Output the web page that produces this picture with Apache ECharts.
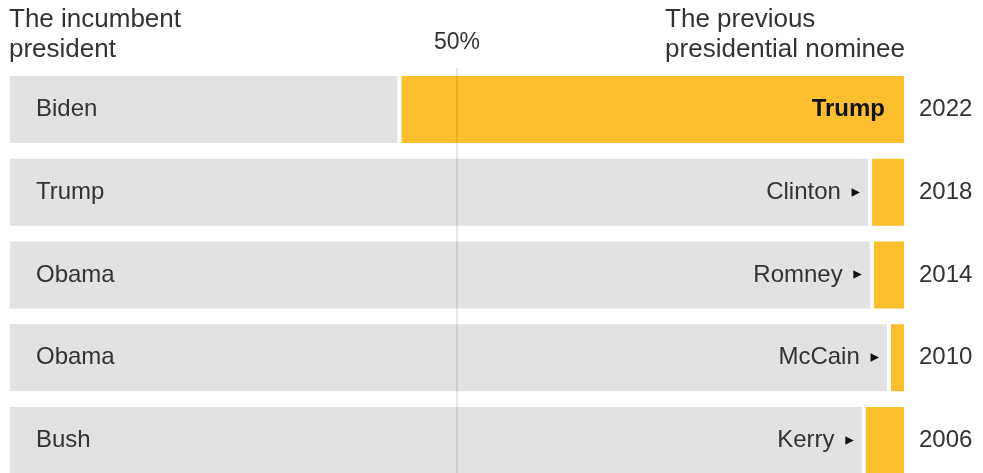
<!DOCTYPE html>
<html>
<head>
<meta charset="utf-8">
<script src="https://cdn.jsdelivr.net/npm/echarts@6/dist/echarts.min.js"></script>
<style>
  html, body { margin: 0; padding: 0; background: #fff; }
  #chart { width: 983px; height: 473px; }
</style>
</head>
<body>
<div id="chart"></div>
<script>
let years = ['2022', '2018', '2014', '2010', '2006'];
let incumbents = ['Biden', 'Trump', 'Obama', 'Obama', 'Bush'];
let nominees = ['Trump', 'Clinton', 'Romney', 'McCain', 'Kerry'];
// share of the bar, percent
let incumbentShare = [43.6, 96.0, 96.2, 98.1, 95.3];
let nomineeShare = [56.4, 4.0, 3.8, 1.9, 4.7];

let font = 'Liberation Sans';
let textColor = '#333';

let nomineeData = nomineeShare.map(function (v, i) {
  if (i === 0) {
    // previous nominee won the row: name sits inside the gold bar
    return {
      value: v,
      label: {
        show: true, position: 'insideRight', distance: 21,
        formatter: nominees[i],
        fontFamily: font, fontSize: 24, fontWeight: 'bold', color: '#111'
      }
    };
  }
  return {
    value: v,
    label: {
      show: true, position: 'left', distance: 10,
      formatter: nominees[i] + ' {tri|▸}',
      fontFamily: font, fontSize: 24, color: textColor,
      rich: { tri: { fontSize: 17, color: '#111', fontFamily: 'DejaVu Sans', padding: [0, 0, 0, 4] } }
    }
  };
});

let option = {
  animation: false,
  backgroundColor: '#fff',
  title: [
    {
      text: 'The incumbent\npresident',
      left: 9, top: 5, padding: 0,
      textStyle: { fontFamily: font, fontSize: 26, lineHeight: 30, fontWeight: 'normal', color: textColor }
    },
    {
      text: 'The previous\npresidential nominee',
      right: 78, top: 5, padding: 0,
      textStyle: { fontFamily: font, fontSize: 26, lineHeight: 30, fontWeight: 'normal', color: textColor, align: 'right' }
    }
  ],
  grid: { left: 8, right: 77, top: 68, height: 414, outerBoundsMode: 'none', containLabel: false },
  xAxis: {
    type: 'value', min: 0, max: 100, interval: 50,
    position: 'top',
    axisLine: { show: false },
    axisTick: { show: false },
    splitLine: { show: false },
    axisLabel: {
      margin: 14,
      formatter: function (v) { return v === 50 ? '50%' : ''; },
      fontFamily: font, fontSize: 23, color: textColor
    }
  },
  yAxis: {
    type: 'category',
    data: years,
    inverse: true,
    position: 'right',
    axisLine: { show: false },
    axisTick: { show: false },
    axisLabel: { margin: 13, fontFamily: font, fontSize: 24, color: textColor }
  },
  series: [
    {
      name: 'incumbent',
      type: 'bar',
      stack: 'share',
      barWidth: 71,
      itemStyle: { color: '#e2e2e2', borderColor: '#fff', borderWidth: 2 },
      label: {
        show: true, position: 'insideLeft', distance: 28,
        formatter: function (p) { return incumbents[p.dataIndex]; },
        fontFamily: font, fontSize: 24, color: textColor
      },
      data: incumbentShare
    },
    {
      name: 'nominee',
      type: 'bar',
      stack: 'share',
      barWidth: 71,
      itemStyle: { color: '#fdbf2e', borderColor: '#fff', borderWidth: 2 },
      data: nomineeData,
      markLine: {
        silent: true,
        symbol: 'none',
        z: 10,
        lineStyle: { color: 'rgba(0,0,0,0.13)', width: 1.5, type: 'solid' },
        label: { show: false },
        data: [{ xAxis: 50 }]
      }
    }
  ]
};

let myChart = echarts.init(document.getElementById('chart'));
myChart.setOption(option);
</script>
</body>
</html>
